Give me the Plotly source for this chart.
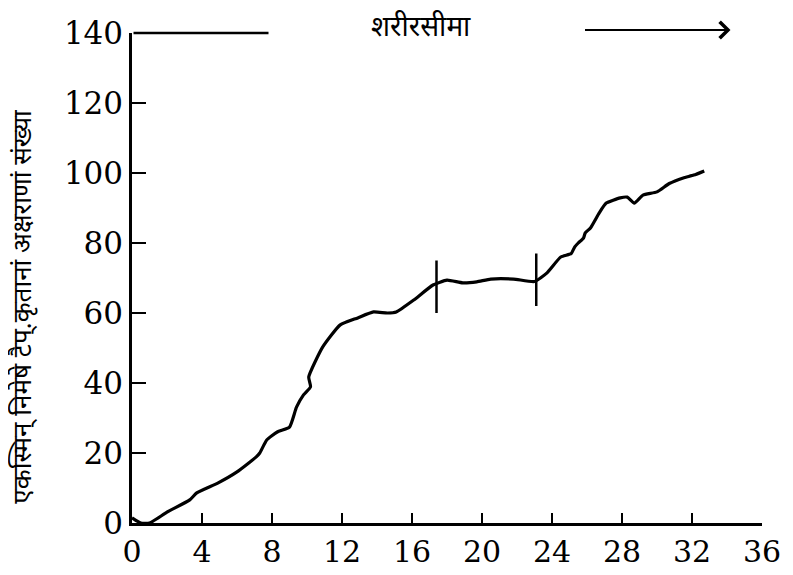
import plotly.graph_objects as go

# Learning curve data (weeks of practice vs. letters typed per minute)
weeks = [0, 0.5, 1.0, 2.0, 3.3, 3.7, 4.9, 6.0, 7.1, 7.3, 7.7, 8.3, 9.0, 9.4, 9.8,
         10.2, 10.1, 10.9, 11.9, 12.9, 13.8, 14.6, 15.1, 16.1, 17.2, 18.0, 18.9,
         19.7, 20.5, 21.8, 23.0, 23.7, 24.5, 25.1, 25.3, 25.5, 25.8, 25.9, 26.2,
         26.7, 27.1, 27.9, 28.3, 28.7, 29.2, 30.0, 30.7, 31.5, 32.1, 32.7]
letters = [1.5, 0, 0, 3.1, 6.6, 8.6, 11.4, 14.6, 18.9, 20, 23.7, 26, 27.4, 33.1, 36.6,
           38.9, 41.7, 50.3, 56.6, 58.6, 60.3, 60, 60.3, 63.7, 68, 69.4, 68.6,
           68.9, 69.7, 69.7, 69, 71.4, 76, 77, 78.9, 80, 81.4, 82.9, 84.3,
           88.6, 91.4, 92.9, 93.1, 91.4, 93.7, 94.6, 97, 98.6, 99.4, 100.6]

# Plateau boundary marks
plateau_x = [17.4, 23.1]
plateau_lo = [60, 62]
plateau_hi = [75, 77]

# Physiological limit
limit_y = 140
limit_line_end = 7.8
limit_title = "शरीरसीमा"
limit_title_x = 16.5
arrow_x0, arrow_x1 = 25.8, 34.2

x_ticks = [0, 4, 8, 12, 16, 20, 24, 28, 32, 36]
y_ticks = [0, 20, 40, 60, 80, 100, 120, 140]
y_title = "एकस्मिन् निमेषे टैप्.कृतानां अक्षराणां संख्या"

DEV = "Noto Sans Devanagari, Lohit Devanagari, FreeSans, Noto Sans, DejaVu Sans, sans-serif"
NUM = "DejaVu Serif, Liberation Serif, serif"

fig = go.Figure()
fig.add_trace(go.Scatter(x=weeks, y=letters, mode="lines",
                         line=dict(color="black", width=3.2, shape="spline", smoothing=0.5),
                         hoverinfo="skip", showlegend=False))
for px, lo, hi in zip(plateau_x, plateau_lo, plateau_hi):
    fig.add_trace(go.Scatter(x=[px, px], y=[lo, hi], mode="lines",
                             line=dict(color="black", width=2.5),
                             hoverinfo="skip", showlegend=False))

# limit line at top
fig.add_annotation(x=limit_line_end, y=limit_y, ax=0, ay=limit_y, xref="x", yref="y",
                   axref="x", ayref="y", text="", showarrow=True, arrowhead=0,
                   arrowwidth=2.5, arrowcolor="black", standoff=0, startstandoff=0)
# arrow toward the limit
fig.add_annotation(x=arrow_x1, y=limit_y, ax=arrow_x0, ay=limit_y, xref="x", yref="y",
                   axref="x", ayref="y", yshift=3, text="", showarrow=True, arrowhead=4,
                   arrowsize=1.6, arrowwidth=2, arrowcolor="black", standoff=0)
# title
fig.add_annotation(x=limit_title_x, y=1, xref="x", yref="paper", yshift=5,
                   text=limit_title, showarrow=False, yanchor="middle",
                   font=dict(family=DEV, size=28, color="black"))
# y title
fig.add_annotation(x=-0.172, y=62, xref="paper", yref="y", text=y_title,
                   textangle=-90, showarrow=False, xanchor="center", yanchor="middle",
                   font=dict(family=DEV, size=26, color="black"))

fig.update_layout(
    width=785, height=567,
    margin=dict(l=124, r=31, t=25, b=52),
    paper_bgcolor="white", plot_bgcolor="white",
    xaxis=dict(range=[0, 36], tickvals=x_ticks, ticktext=[str(v) for v in x_ticks],
               automargin=False,
               showgrid=False, zeroline=False, showline=True, linecolor="black",
               linewidth=2.5, ticks="inside", ticklen=10, tickwidth=2, tickcolor="black",
               tickfont=dict(family=NUM, size=30, color="black")),
    yaxis=dict(range=[0, 140], tickvals=y_ticks, ticktext=[str(v) for v in y_ticks],
               automargin=False,
               showgrid=False, zeroline=False, showline=True, linecolor="black",
               linewidth=2.5, ticks="inside", ticklen=14, tickwidth=2, tickcolor="black",
               tickfont=dict(family=NUM, size=31, color="black")),
)

fig.write_html("out.html")
